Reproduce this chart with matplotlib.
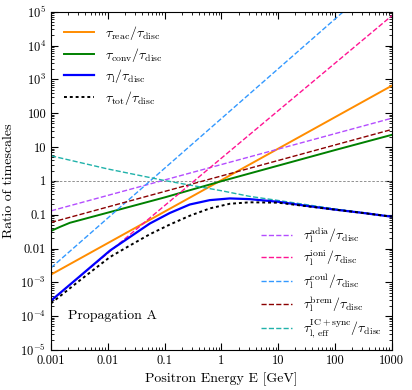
import numpy as np
import matplotlib
matplotlib.use("Agg")
import matplotlib.pyplot as plt
from matplotlib.ticker import FixedLocator, LogLocator, NullFormatter

plt.rcParams['font.family'] = 'serif'
plt.rcParams['font.serif'] = ['cmr10', 'DejaVu Serif']
plt.rcParams['mathtext.fontset'] = 'cm'
plt.rcParams['axes.unicode_minus'] = False

E_curve = [0.001, 0.00316, 0.0109, 0.0245, 0.055, 0.123, 0.277, 0.622, 1.4, 3.14, 10, 31.6, 100, 316, 1000]
tau_l = [2.88e-4, 1.48e-3, 8.7e-3, 0.0219, 0.055, 0.112, 0.200, 0.269, 0.302, 0.288, 0.240, 0.182, 0.141, 0.112, 0.087]
tau_tot = [2.4e-4, 1.12e-3, 5.6e-3, 0.0123, 0.0265, 0.051, 0.093, 0.153, 0.21, 0.232, 0.226, 0.178, 0.141, 0.112, 0.087]

E_ic = [0.001, 0.01, 0.1, 1, 3.16, 10, 100, 1000]
tau_ic = [5.5, 2.24, 1.02, 0.51, 0.347, 0.263, 0.148, 0.089]

E_conv = [0.001, 0.00141, 0.00214, 0.01, 0.1, 1, 10, 100, 1000]
tau_conv = [0.0331, 0.043, 0.0575, 0.115, 0.324, 0.977, 2.82, 8.13, 22.9]

E_ends = [0.001, 1000]
tau_reac = [0.0017, 650]
tau_adia = [0.13, 71]
tau_brem = [0.059, 33]
tau_ioni = [2.9e-4, 7.6e4]
tau_coul = [2.7e-3, 1.8e6]

xticks = [1e-3, 1e-2, 1e-1, 1, 10, 100, 1000]
xlabels = ['0.001', '0.01', '0.1', '1', '10', '100', '1000']
yticks = [1e-5, 1e-4, 1e-3, 1e-2, 1e-1, 1, 10, 100, 1e3, 1e4, 1e5]
ylabels = ['$10^{-5}$', '$10^{-4}$', '$10^{-3}$', '0.01', '0.1', '1', '10', '100',
           '$10^{3}$', '$10^{4}$', '$10^{5}$']

fig = plt.figure(figsize=(4.12, 3.9), dpi=100)
ax = fig.add_axes([0.124, 0.1026, 0.827, 0.8674])

ax.axhline(1, color='gray', ls='--', lw=0.6, dashes=(3, 2))

l1, = ax.plot(E_ends, tau_reac, color='darkorange', lw=1.4, label=r'$\tau_{\rm reac}/\tau_{\rm disc}$')
l2, = ax.plot(E_conv, tau_conv, color='green', lw=1.4, label=r'$\tau_{\rm conv}/\tau_{\rm disc}$')

d1, = ax.plot(E_ends, tau_adia, color='#b44dff', lw=1.0, ls='--', label=r'$\tau_{\rm l}^{\rm adia}/\tau_{\rm disc}$')
d2, = ax.plot(E_ends, tau_ioni, color='deeppink', lw=1.0, ls='--', label=r'$\tau_{\rm l}^{\rm ioni}/\tau_{\rm disc}$')
d3, = ax.plot(E_ends, tau_coul, color='#3399ff', lw=1.0, ls='--', label=r'$\tau_{\rm l}^{\rm coul}/\tau_{\rm disc}$')
d4, = ax.plot(E_ends, tau_brem, color='darkred', lw=1.0, ls='--', label=r'$\tau_{\rm l}^{\rm brem}/\tau_{\rm disc}$')
d5, = ax.plot(E_ic, tau_ic, color='lightseagreen', lw=1.0, ls='--',
              label=r'$\tau_{\rm l,\,eff}^{\rm IC+sync}/\tau_{\rm disc}$')

l3, = ax.plot(E_curve, tau_l, color='blue', lw=1.6, label=r'$\tau_{\rm l}/\tau_{\rm disc}$')
l4, = ax.plot(E_curve, tau_tot, color='black', lw=1.4, ls=(0, (1.5, 1.5)), label=r'$\tau_{\rm tot}/\tau_{\rm disc}$')

ax.set_xscale('log')
ax.set_yscale('log')
ax.set_xlim(1e-3, 1e3)
ax.set_ylim(1e-5, 1e5)
ax.xaxis.set_major_locator(FixedLocator(xticks))
ax.set_xticklabels(xlabels)
ax.yaxis.set_major_locator(FixedLocator(yticks))
ax.set_yticklabels(ylabels)
ax.xaxis.set_minor_locator(LogLocator(base=10, subs=np.arange(2, 10), numticks=20))
ax.yaxis.set_minor_locator(LogLocator(base=10, subs=np.arange(2, 10), numticks=20))
ax.xaxis.set_minor_formatter(NullFormatter())
ax.yaxis.set_minor_formatter(NullFormatter())
ax.tick_params(which='both', direction='in', top=True, right=True, labelsize=9)
ax.tick_params(which='major', length=5)
ax.tick_params(which='minor', length=2.5)

ax.set_xlabel('Positron Energy E [GeV]', fontsize=10)
ax.set_ylabel('Ratio of timescales', fontsize=10)

ax.text(2e-3, 1e-4, 'Propagation A', fontsize=10, va='center')

leg1 = ax.legend(handles=[l1, l2, l3, l4], loc='upper left', frameon=False, fontsize=10,
                 handlelength=2.2, labelspacing=0.25, borderaxespad=0.5)
ax.add_artist(leg1)
ax.legend(handles=[d1, d2, d3, d4, d5], loc='lower right', frameon=False, fontsize=10,
          handlelength=2.2, labelspacing=0.25, borderaxespad=0.3)

fig.savefig('out.png', dpi=100)
